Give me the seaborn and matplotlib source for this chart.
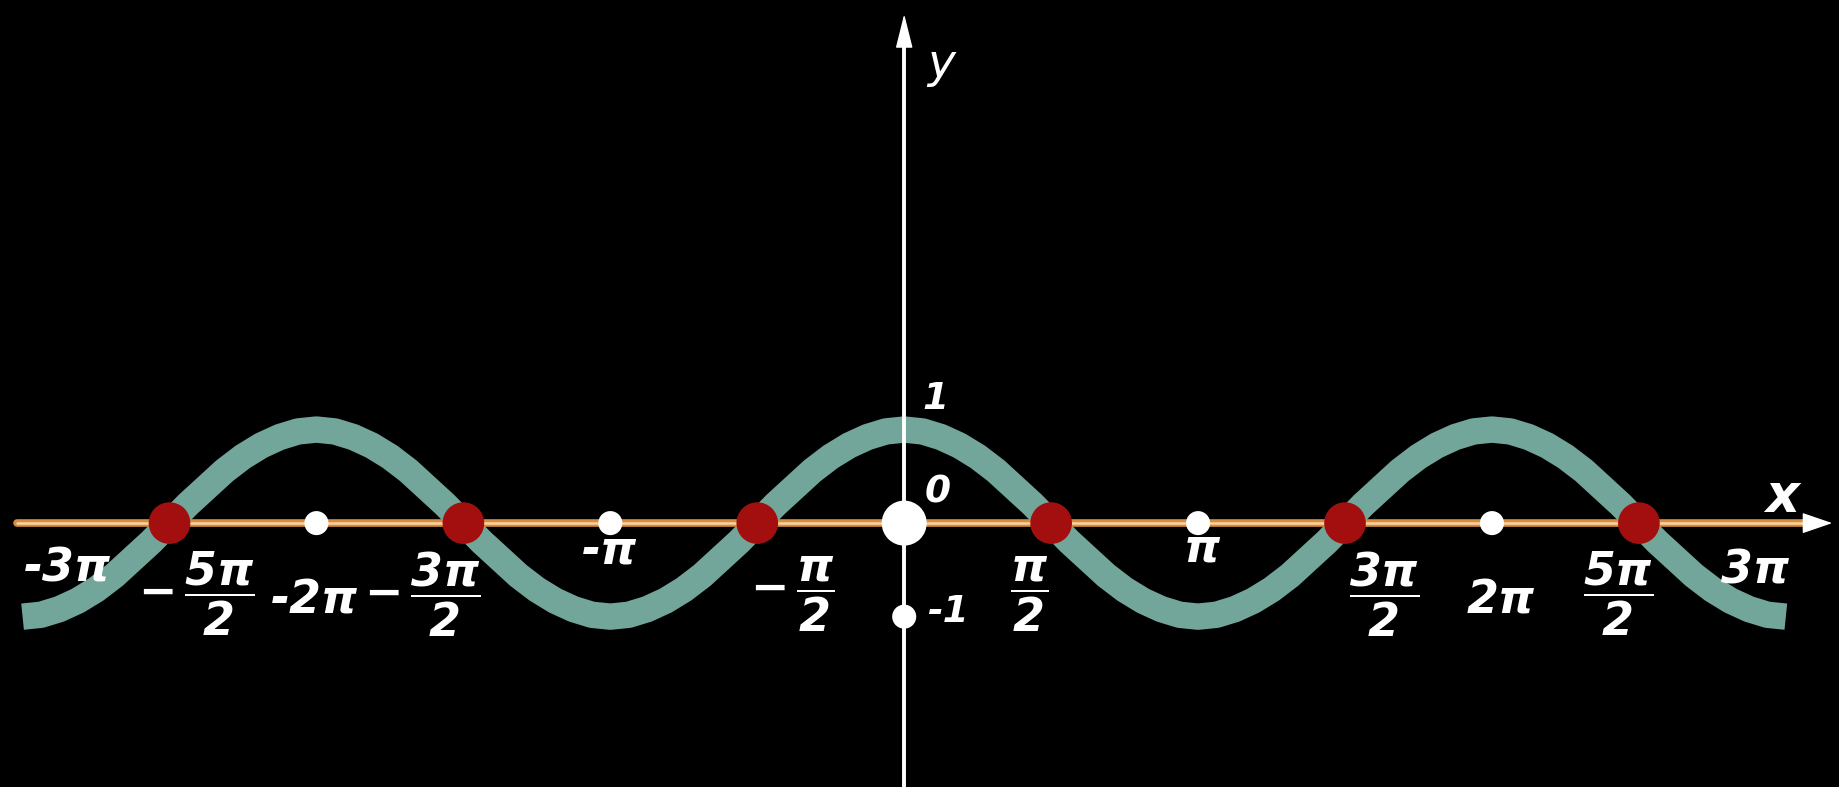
import numpy as np
import matplotlib
matplotlib.use("Agg")
import matplotlib.pyplot as plt
import seaborn as sns

period_y = [-1.0, -0.98, -0.92, -0.83, -0.71, -0.56, -0.38, -0.20,
            0.0, 0.20, 0.38, 0.56, 0.71, 0.83, 0.92, 0.98,
            1.0, 0.98, 0.92, 0.83, 0.71, 0.56, 0.38, 0.20,
            0.0, -0.20, -0.38, -0.56, -0.71, -0.83, -0.92, -0.98]
curve_y = period_y * 3 + [-1.0]
curve_x = np.linspace(-3 * np.pi, 3 * np.pi, len(curve_y))

# marked points on the x axis, in multiples of pi/2
zero_k = [-5, -3, -1, 1, 3, 5]     # red: where cos x = 0
white_k = [-4, -2, 2, 4]           # white: -2pi, -pi, pi, 2pi
unit_y = [-1]                      # white dot at y = -1 on the y axis

# axis labels and where they sit (data units)
tick_text = ["-3π", r"$-\,\dfrac{5\pi}{2}$", "-2π", r"$-\,\dfrac{3\pi}{2}$", "-π",
             r"$-\,\dfrac{\pi}{2}$", r"$\dfrac{\pi}{2}$", "π", r"$\dfrac{3\pi}{2}$",
             "2π", r"$\dfrac{5\pi}{2}$", "3π"]
tick_pos = [(-8.95, -0.49), (-7.57, -0.76), (-6.30, -0.83), (-5.15, -0.76),
            (-3.15, -0.30), (-1.20, -0.76), (1.34, -0.76), (3.18, -0.28),
            (5.13, -0.76), (6.38, -0.83), (7.63, -0.76), (9.10, -0.51)]
y_text = ["1", "0", "-1"]
y_text_pos = [(0.33, 1.33), (0.36, 0.33), (0.47, -0.95)]

sns.set_theme(style="dark")
plt.rcParams['font.family'] = ['DejaVu Sans']
plt.rcParams['mathtext.fontset'] = 'custom'
plt.rcParams['mathtext.rm'] = 'DejaVu Sans:bold:italic'
plt.rcParams['mathtext.it'] = 'DejaVu Sans:bold:italic'
plt.rcParams['mathtext.bf'] = 'DejaVu Sans:bold:italic'

fig = plt.figure(figsize=(18.39, 7.87), dpi=100, facecolor='black')
ax = fig.add_axes([0, 0, 1, 1])
ax.set_facecolor('black')
ax.set_axis_off()

# x axis (orange chalk line with white arrow head)
ax.plot([-9.48, 9.72], [0, 0], color='#d98c3c', lw=5.5, zorder=2)
ax.plot([-9.48, 9.72], [0, 0], color='#f6d2a4', lw=1.8, zorder=2)
ax.annotate("", xy=(9.95, 0), xytext=(9.6, 0),
            arrowprops=dict(arrowstyle='-|>,head_length=1.6,head_width=0.55',
                            color='white', lw=1), zorder=3)

# the curve
sns.lineplot(x=curve_x, y=curve_y, ax=ax, color='#72a69a', lw=19,
             estimator=None, sort=False, solid_capstyle='butt',
             solid_joinstyle='round', zorder=1)

# y axis on top
ax.plot([0, 0], [-2.9, 5.2], color='white', lw=2.8, zorder=4)
ax.annotate("", xy=(0, 5.47), xytext=(0, 5.0),
            arrowprops=dict(arrowstyle='-|>,head_length=1.8,head_width=0.45',
                            color='white', lw=1), zorder=4)

# marked points
half_pi = np.pi / 2
sns.scatterplot(x=[k * half_pi for k in zero_k], y=[0] * len(zero_k), ax=ax,
                s=900, color='#a30f0f', edgecolor='none', zorder=5)
sns.scatterplot(x=[k * half_pi for k in white_k], y=[0] * len(white_k), ax=ax,
                s=300, color='white', edgecolor='none', zorder=5)
sns.scatterplot(x=[0], y=[0], ax=ax, s=1050, color='white', edgecolor='none', zorder=5)
sns.scatterplot(x=[0] * len(unit_y), y=unit_y, ax=ax, s=300, color='white',
                edgecolor='none', zorder=5)

for txt, (tx, ty) in zip(tick_text, tick_pos):
    ax.text(tx, ty, txt, color='white', fontsize=33, fontweight='bold', style='italic',
            ha='center', va='center', zorder=6)
for txt, (tx, ty) in zip(y_text, y_text_pos):
    ax.text(tx, ty, txt, color='white', fontsize=27, fontweight='bold', style='italic',
            ha='center', va='center', zorder=6)

ax.text(9.39, 0.28, "x", color='white', fontsize=38, fontweight='bold', style='italic',
        ha='center', va='center', zorder=6)
ax.text(0.40, 4.90, "y", color='white', fontsize=34, style='italic',
        ha='center', va='center', zorder=6)

ax.set_xlim(-9.666, 9.993)
ax.set_ylim(-2.821, 5.592)

fig.savefig("out.png", dpi=100, facecolor='black')
